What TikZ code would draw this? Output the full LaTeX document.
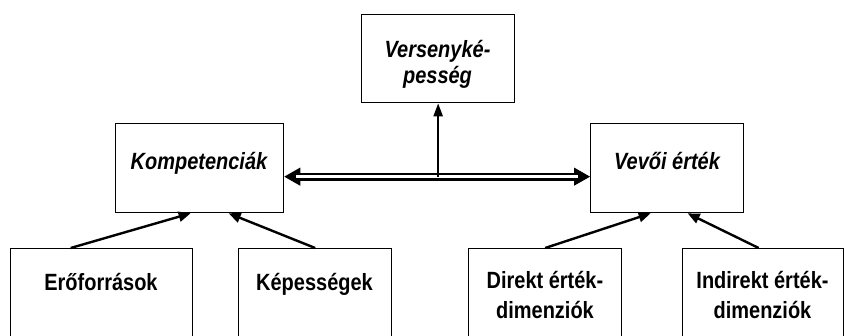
\documentclass[tikz,border=0pt]{standalone}
\usepackage{fontspec}
\setmainfont{Liberation Sans}
\newfontfamily\narrowfont[FakeStretch=0.85]{Liberation Sans}
\usetikzlibrary{arrows.meta}
\begin{document}
\begin{tikzpicture}[x=1pt,y=-1pt,
  box/.style={draw, line width=1.3pt, inner sep=0pt, anchor=north west},
  lbl/.style={font=\narrowfont\fontsize{23.5}{25.5}\selectfont\bfseries\itshape, align=center, inner sep=0pt, anchor=base},
  blbl/.style={font=\narrowfont\fontsize{23.5}{30}\selectfont\bfseries, align=center, inner sep=0pt, anchor=base},
  conn/.style={line width=2.4pt, -{Triangle[length=12pt,width=10pt]}}]
\useasboundingbox (0,0) rectangle (844,335);
\clip (0,0) rectangle (844,335);
% boxes
\node[box, minimum width=153pt, minimum height=88pt] (vers) at (361,14) {};
\node[box, minimum width=168pt, minimum height=89pt] (komp) at (115,123) {};
\node[box, minimum width=153pt, minimum height=89pt] (vevo) at (590,123) {};
\node[box, minimum width=182pt, minimum height=100pt] (ero) at (10,248) {};
\node[box, minimum width=153pt, minimum height=100pt] (kep) at (238,248) {};
\node[box, minimum width=153pt, minimum height=100pt] (dir) at (468,248) {};
\node[box, minimum width=161pt, minimum height=100pt] (ind) at (682,248) {};
% texts
\node[lbl] (verst) at (437.5,83) {Versenyké-\\pesség};
\node[lbl] (kompt) at (199,169) {Kompetenciák};
\node[lbl] (vevot) at (667,169) {Vevői érték};
\node[blbl] (erot) at (101,290) {Erőforrások};
\node[blbl] (kept) at (314.5,290) {Képességek};
\node[blbl] (dirt) at (545,318) {Direkt érték-\\dimenziók};
\node[blbl] (indt) at (762.5,318) {Indirekt érték-\\dimenziók};
% double arrow
\coordinate (dl) at ([yshift=-8.5pt]komp.east);
\coordinate (dr) at ([yshift=-8.5pt]vevo.west);
\draw[line width=1pt, {Triangle[length=16pt,width=18pt]}-{Triangle[length=16pt,width=18pt]}] (dl) -- (dr);
\draw[line width=2.8pt, double, double distance=2.4pt, shorten <=12pt, shorten >=12pt] (dl) -- (dr);
\coordinate (dm) at (dl -| vers.south);
\draw[line width=2.2pt, -{Triangle[length=13pt,width=9pt]}] (dm) -- (vers.south);
% bottom connectors
\draw[conn] ([xshift=-31pt]ero.north) -- ([xshift=-9pt]komp.south);
\draw[conn] (kep.north) -- ([xshift=29pt]komp.south);
\draw[conn] (dir.north) -- ([xshift=-16.5pt]vevo.south);
\draw[conn] ([xshift=-4.5pt]ind.north) -- ([xshift=20.5pt]vevo.south);
\end{tikzpicture}
\end{document}
